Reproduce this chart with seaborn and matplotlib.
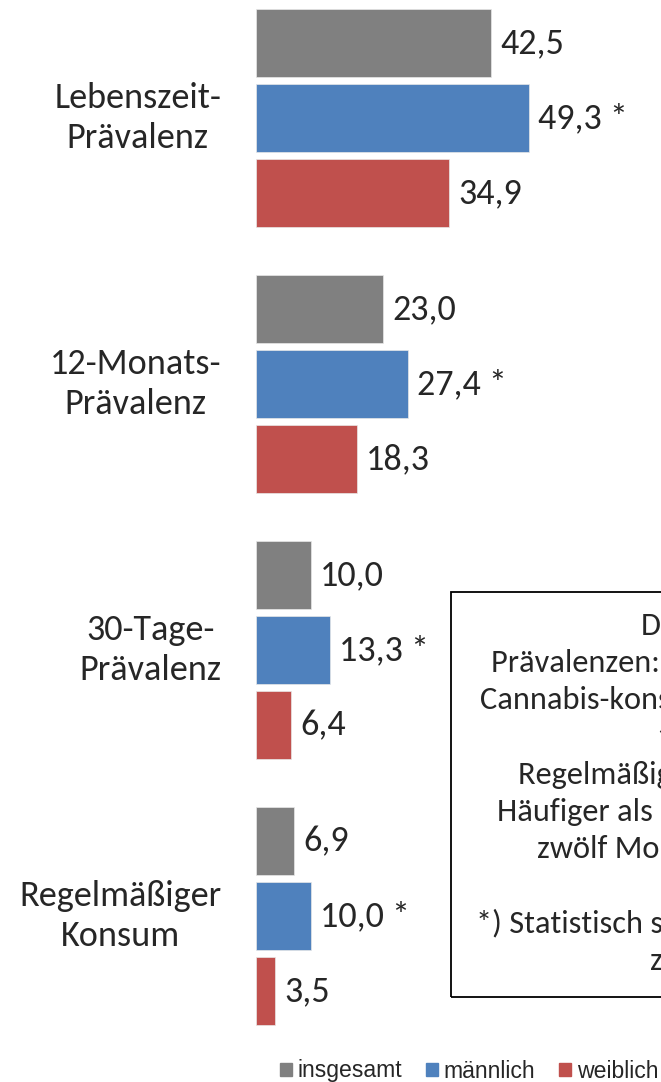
import matplotlib
matplotlib.use('Agg')
import matplotlib.pyplot as plt
from matplotlib.patches import Rectangle
import seaborn as sns
import pandas as pd

# Kategorien und Werte (Prozent)
kategorien = ['Lebenszeit-\nPrävalenz', '12-Monats-\nPrävalenz', '30-Tage-\nPrävalenz', 'Regelmäßiger\nKonsum']
gruppen = ['insgesamt', 'männlich', 'weiblich']
insgesamt = [42.5, 23.0, 10.0, 6.9]
maennlich = [49.3, 27.4, 13.3, 10.0]
weiblich = [34.9, 18.3, 6.4, 3.5]
signifikant = [True, True, True, True]  # *) nur bei männlich markiert

farben = ['#808080', '#4F81BD', '#C0504D']

info_zeilen = ['Definition der',
               'Prävalenzen: Anteil der',
               'Cannabis-konsumierenden',
               '12 Monate, 30 Tage',
               'Regelmäßiger Konsum:',
               'Häufiger als zehnmal in den letzten',
               'zwölf Monaten',
               '',
               '*) Statistisch signifikanter Unterschied',
               'zwischen den Geschlechtern']
info_x = [641, 491, 480, 657, 518, 497, 537, 0, 476, 650]  # Zeilenanfang in px

df = pd.DataFrame({
    'kategorie': kategorien * 3,
    'gruppe': [g for g in gruppen for _ in kategorien],
    'wert': insgesamt + maennlich + weiblich,
})

sns.set_style('white')
plt.rcParams['font.family'] = ['Carlito', 'DejaVu Sans']

W, H = 661, 1082
fig = plt.figure(figsize=(W / 100, H / 100), dpi=100)
ax = fig.add_axes([256 / W, (H - 1030) / H, 405 / W, 1030 / H])

sns.barplot(data=df, y='kategorie', x='wert', hue='gruppe', hue_order=gruppen,
            palette=farben, saturation=1, orient='h', width=0.846, gap=0.093,
            legend=False, edgecolor='#e8e8e8', linewidth=0.5, ax=ax)

ax.set_xlim(0, 73.2)
ax.set_ylim(3.4286, -0.4436)
ax.set_xlabel('')
ax.set_ylabel('')
ax.set_xticks([])
for s in ax.spines.values():
    s.set_visible(False)
ax.tick_params(axis='y', length=0, pad=25, labelsize=26)
for lbl in ax.get_yticklabels():
    lbl.set_multialignment('center')
    lbl.set_linespacing(1.32)
    lbl.set_verticalalignment('center')

def fmt(v, stern=False):
    s = f'{v:.1f}'.replace('.', ',')
    return s + ' *' if stern else s

werte = [insgesamt, maennlich, weiblich]
for i, cont in enumerate(ax.containers):
    labels = [fmt(v, stern=(i == 1 and signifikant[j])) for j, v in enumerate(werte[i])]
    ax.bar_label(cont, labels=labels, padding=6.5, fontsize=26, clip_on=False)

# Infobox (rechts abgeschnitten)
fig.add_artist(Rectangle((451 / W, 1 - 997 / H), 0.6, (997 - 592) / H,
                         transform=fig.transFigure, fill=False, lw=1.3,
                         edgecolor='black', clip_on=False))
for k, (zeile, x0) in enumerate(zip(info_zeilen, info_x)):
    if not zeile:
        continue
    y = 635 + k * 37.2
    fig.text(x0 / W, 1 - y / H, zeile, ha='left', va='baseline', fontsize=23.3)

# Legende
handles = [Rectangle((0, 0), 1, 1, color=c) for c in farben]
fig.legend(handles, gruppen, loc='center left', bbox_to_anchor=(280 / W, 1 - 1071 / H),
           ncol=3, frameon=False, handlelength=0.5, handleheight=0.5,
           handletextpad=0.25, columnspacing=1.05, borderpad=0, borderaxespad=0,
           prop={'family': 'Liberation Sans', 'size': 16.6})

fig.savefig('out.png', dpi=100)
